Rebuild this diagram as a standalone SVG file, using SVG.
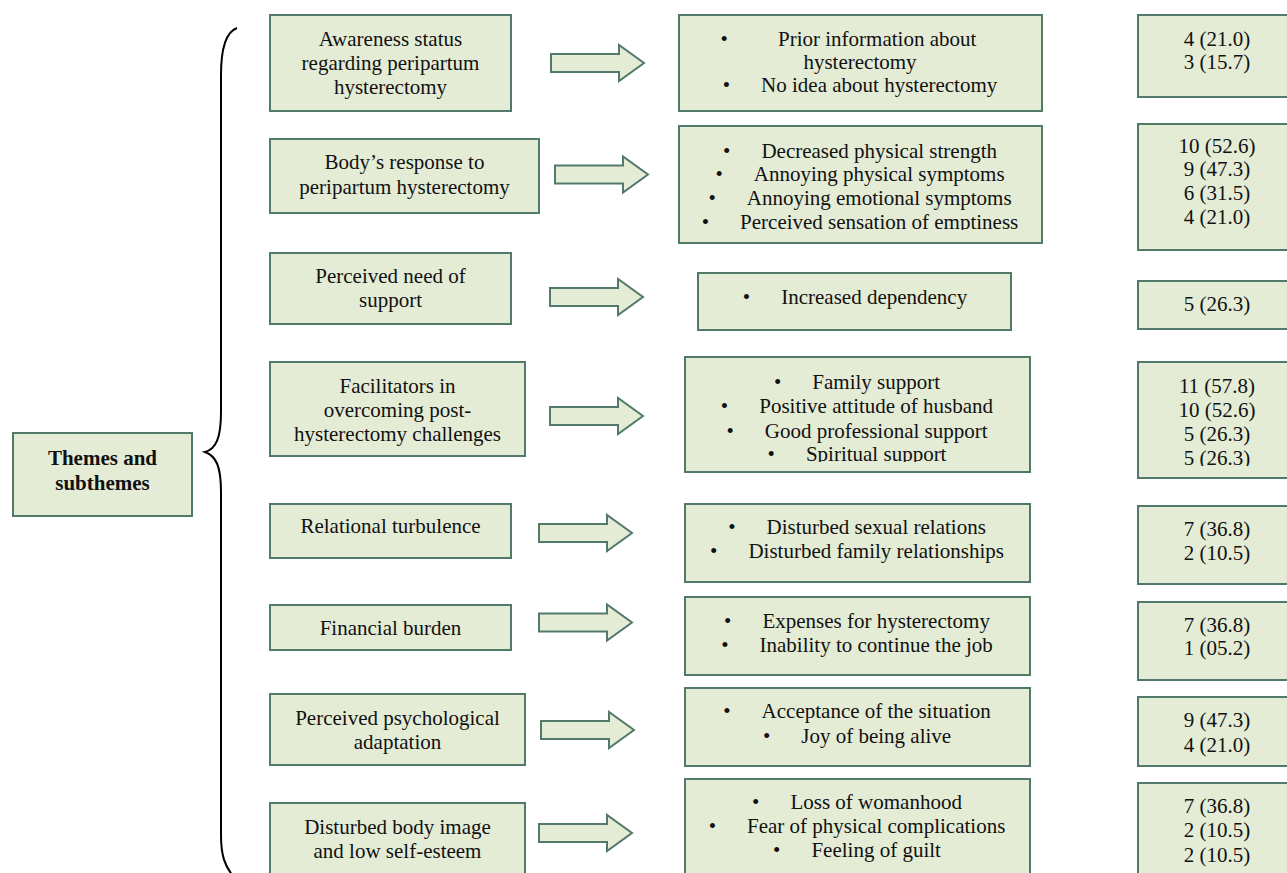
<svg xmlns="http://www.w3.org/2000/svg" xmlns:xlink="http://www.w3.org/1999/xlink" width="1287" height="873" viewBox="0 0 1287 873">
<style>
.box{fill:#e4ecd6;stroke:#527a6a;stroke-width:2}
.frame{fill:none;stroke:#527a6a;stroke-width:2}
.arr{fill:#e4ecd6;stroke:#527a6a;stroke-width:2;stroke-linejoin:miter}
text{font-family:"Liberation Serif","Times New Roman",serif;font-size:21px;fill:#111;text-anchor:middle}
.st{text-anchor:start}
.b{font-weight:bold}
.brace{fill:none;stroke:#000;stroke-width:2}
</style>
<defs>
<polygon id="arrow" class="arr" points="0,-9 68,-9 68,-18 93,0 68,18 68,9 0,9"/>
<clipPath id="c2"><rect x="679" y="126" width="363" height="104"/></clipPath>
<clipPath id="c4"><rect x="685" y="357" width="345" height="105"/></clipPath>
<clipPath id="n4"><rect x="1138" y="362" width="160" height="104"/></clipPath>
</defs>
<rect width="1287" height="873" fill="#fff"/>

<g id="brace">
<path class="brace" d="M237,28 C226,32 221,48 221,75 L221,412 C221,438 216,449 205,452 C216,456 221,466 221,492 L221,835 C221,856 225,866 233,876"/>
</g>

<g id="themes">
<rect class="box" x="13" y="433" width="179" height="83"/>
<text class="b" x="102.5" y="465">Themes and</text>
<text class="b" x="102.5" y="490">subthemes</text>
</g>

<g id="t1">
<rect class="box" x="270" y="15" width="241" height="96"/>
<text x="390.5" y="46">Awareness status</text>
<text x="390.5" y="70">regarding peripartum</text>
<text x="390.5" y="94">hysterectomy</text>
</g>
<g id="t2">
<rect class="box" x="270" y="139" width="269" height="74"/>
<text x="404.5" y="169">Body’s response to</text>
<text x="404.5" y="194">peripartum hysterectomy</text>
</g>
<g id="t3">
<rect class="box" x="270" y="253" width="241" height="71"/>
<text x="390.5" y="283">Perceived need of</text>
<text x="390.5" y="307">support</text>
</g>
<g id="t4">
<rect class="box" x="270" y="362" width="255" height="94"/>
<text x="397.5" y="393">Facilitators in</text>
<text x="397.5" y="417">overcoming post-</text>
<text x="397.5" y="441">hysterectomy challenges</text>
</g>
<g id="t5">
<rect class="box" x="270" y="504" width="241" height="54"/>
<text x="390.5" y="533">Relational turbulence</text>
</g>
<g id="t6">
<rect class="box" x="270" y="605" width="241" height="45"/>
<text x="390.5" y="635">Financial burden</text>
</g>
<g id="t7">
<rect class="box" x="270" y="694" width="255" height="71"/>
<text x="397.5" y="725">Perceived psychological</text>
<text x="397.5" y="749">adaptation</text>
</g>
<g id="t8">
<rect class="box" x="270" y="803" width="255" height="80"/>
<text x="397.5" y="834">Disturbed body image</text>
<text x="397.5" y="858">and low self-esteem</text>
</g>

<g id="connectors">
<use xlink:href="#arrow" x="551" y="63"/>
<use xlink:href="#arrow" x="555" y="174.5"/>
<use xlink:href="#arrow" x="550" y="297"/>
<use xlink:href="#arrow" x="550" y="416"/>
<use xlink:href="#arrow" x="539" y="533"/>
<use xlink:href="#arrow" x="539" y="622.5"/>
<use xlink:href="#arrow" x="541" y="730"/>
<use xlink:href="#arrow" x="539" y="833"/>
</g>

<g id="s1">
<rect class="box" x="679" y="15" width="363" height="96"/>
<text class="st" x="720.5" y="46">•<tspan x="778">Prior information about</tspan></text>
<text x="860" y="69">hysterectomy</text>
<text x="860" y="92">•<tspan dx="31">No idea about hysterectomy</tspan></text>
</g>
<g id="s2">
<rect class="box" x="679" y="126" width="363" height="117"/>
<g clip-path="url(#c2)">
<text x="860" y="158">•<tspan dx="31">Decreased physical strength</tspan></text>
<text x="860" y="181">•<tspan dx="31">Annoying physical symptoms</tspan></text>
<text x="860" y="205">•<tspan dx="31">Annoying emotional symptoms</tspan></text>
<text x="860" y="229">•<tspan dx="31">Perceived sensation of emptiness</tspan></text>
</g>
<rect class="frame" x="679" y="126" width="363" height="117"/>
</g>
<g id="s3">
<rect class="box" x="698" y="273" width="313" height="57"/>
<text x="855" y="304">•<tspan dx="31">Increased dependency</tspan></text>
</g>
<g id="s4">
<rect class="box" x="685" y="357" width="345" height="115"/>
<g clip-path="url(#c4)">
<text x="857" y="389">•<tspan dx="31">Family support</tspan></text>
<text x="857" y="413">•<tspan dx="31">Positive attitude of husband</tspan></text>
<text x="857" y="438">•<tspan dx="31">Good professional support</tspan></text>
<text x="857" y="461">•<tspan dx="31">Spiritual support</tspan></text>
</g>
<rect class="frame" x="685" y="357" width="345" height="115"/>
</g>
<g id="s5">
<rect class="box" x="685" y="504" width="345" height="78"/>
<text x="857" y="534">•<tspan dx="31">Disturbed sexual relations</tspan></text>
<text x="857" y="558">•<tspan dx="31">Disturbed family relationships</tspan></text>
</g>
<g id="s6">
<rect class="box" x="685" y="597" width="345" height="78"/>
<text x="857" y="628">•<tspan dx="31">Expenses for hysterectomy</tspan></text>
<text x="857" y="652">•<tspan dx="31">Inability to continue the job</tspan></text>
</g>
<g id="s7">
<rect class="box" x="685" y="688" width="345" height="78"/>
<text x="857" y="718">•<tspan dx="31">Acceptance of the situation</tspan></text>
<text x="857" y="743">•<tspan dx="31">Joy of being alive</tspan></text>
</g>
<g id="s8">
<rect class="box" x="685" y="779" width="345" height="104"/>
<text x="857" y="809">•<tspan dx="31">Loss of womanhood</tspan></text>
<text x="857" y="833">•<tspan dx="31">Fear of physical complications</tspan></text>
<text x="857" y="857">•<tspan dx="31">Feeling of guilt</tspan></text>
</g>

<g id="n1">
<rect class="box" x="1138" y="15" width="160" height="82"/>
<text x="1217" y="46">4 (21.0)</text>
<text x="1217" y="69">3 (15.7)</text>
</g>
<g id="n2">
<rect class="box" x="1138" y="124" width="160" height="126"/>
<text x="1217" y="153">10 (52.6)</text>
<text x="1217" y="176">9 (47.3)</text>
<text x="1217" y="200">6 (31.5)</text>
<text x="1217" y="224">4 (21.0)</text>
</g>
<g id="n3">
<rect class="box" x="1138" y="281" width="160" height="48"/>
<text x="1217" y="311">5 (26.3)</text>
</g>
<g id="n4">
<rect class="box" x="1138" y="362" width="160" height="116"/>
<g clip-path="url(#n4)">
<text x="1217" y="393">11 (57.8)</text>
<text x="1217" y="417">10 (52.6)</text>
<text x="1217" y="441">5 (26.3)</text>
<text x="1217" y="465">5 (26.3)</text>
</g>
<rect class="frame" x="1138" y="362" width="160" height="116"/>
</g>
<g id="n5">
<rect class="box" x="1138" y="506" width="160" height="78"/>
<text x="1217" y="536">7 (36.8)</text>
<text x="1217" y="560">2 (10.5)</text>
</g>
<g id="n6">
<rect class="box" x="1138" y="602" width="160" height="78"/>
<text x="1217" y="632">7 (36.8)</text>
<text x="1217" y="655">1 (05.2)</text>
</g>
<g id="n7">
<rect class="box" x="1138" y="697" width="160" height="69"/>
<text x="1217" y="727">9 (47.3)</text>
<text x="1217" y="752">4 (21.0)</text>
</g>
<g id="n8">
<rect class="box" x="1138" y="783" width="160" height="100"/>
<text x="1217" y="813">7 (36.8)</text>
<text x="1217" y="837">2 (10.5)</text>
<text x="1217" y="862">2 (10.5)</text>
</g>
</svg>
